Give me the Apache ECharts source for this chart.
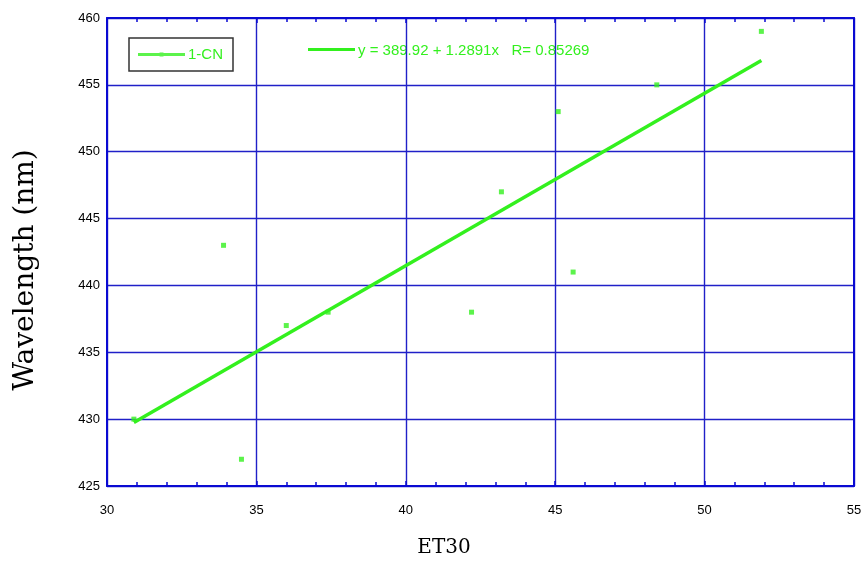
<!DOCTYPE html>
<html>
<head>
<meta charset="utf-8">
<script src="https://cdn.jsdelivr.net/npm/echarts@6/dist/echarts.min.js"></script>
<style>
  html, body { margin: 0; padding: 0; background: #ffffff; }
  #chart { width: 867px; height: 561px; }
</style>
</head>
<body>
<div id="chart"></div>
<script>
// Solvent polarity ET(30) vs. emission wavelength for 1-CN
const et30Values = [30.9, 33.9, 34.5, 36.0, 37.4, 42.2, 43.2, 45.1, 45.6, 48.4, 51.9];
const wavelengthValues = [430, 443, 427, 437, 438, 438, 447, 453, 441, 455, 459];

// Linear fit as reported: y = a + b x, R
const fitIntercept = 389.92;
const fitSlope = 1.2891;
const fitR = 0.85269;
const fitRange = [30.9, 51.9];

const xTicks = { min: 30, max: 55, step: 5 };
const yTicks = { min: 425, max: 460, step: 5 };

const GREEN = '#33f01e';
const FRAME = '#0a0ad2';
const GRID = '#2020c8';

const points = et30Values.map((x, i) => [x, wavelengthValues[i]]);
const fitLine = fitRange.map(x => [x, fitIntercept + fitSlope * x]);

const chart = echarts.init(document.getElementById('chart'), null, { renderer: 'canvas' });

const axisLabelFont = { color: '#000', fontFamily: 'Liberation Sans, Arial, sans-serif', fontSize: 13 };
const titleFont = '"DejaVu Serif", serif';

chart.setOption({
  animation: false,
  backgroundColor: '#ffffff',
  grid: { left: 107, right: 13, top: 18, bottom: 75, outerBoundsMode: 'none', containLabel: false },
  legend: {
    data: ['1-CN'],
    left: 129, top: 38,
    width: 104, height: 33,
    padding: [9, 10, 9, 9],
    borderColor: '#333333',
    borderWidth: 1.5,
    borderRadius: 0,
    itemWidth: 47, itemHeight: 8,
    itemGap: 0,
    icon: 'path://M0,2.5h48v3h-48z M22,2h4v4h-4z',
    textStyle: { color: GREEN, fontFamily: 'Liberation Sans, Arial, sans-serif', fontSize: 15, padding: [0, 0, 0, -2] }
  },
  xAxis: [
    {
      type: 'value', position: 'bottom',
      min: xTicks.min, max: xTicks.max, interval: xTicks.step,
      axisLine: { show: true, onZero: false, lineStyle: { color: FRAME, width: 2 } },
      axisTick: { show: true, inside: true, length: 5, lineStyle: { color: FRAME, width: 1.5 } },
      minorTick: { show: true, splitNumber: 5, length: 4, lineStyle: { color: FRAME, width: 1.5 } },
      axisLabel: Object.assign({ margin: 18 }, axisLabelFont),
      splitLine: { show: true, lineStyle: { color: GRID, width: 1.4 } }
    },
    {
      type: 'value', position: 'top',
      min: xTicks.min, max: xTicks.max, interval: xTicks.step,
      axisLine: { show: true, onZero: false, lineStyle: { color: FRAME, width: 2 } },
      axisTick: { show: true, inside: true, length: 5, lineStyle: { color: FRAME, width: 1.5 } },
      minorTick: { show: true, splitNumber: 5, length: 4, lineStyle: { color: FRAME, width: 1.5 } },
      axisLabel: { show: false },
      splitLine: { show: false }
    }
  ],
  yAxis: [
    {
      type: 'value', position: 'left',
      min: yTicks.min, max: yTicks.max, interval: yTicks.step,
      axisLine: { show: true, onZero: false, lineStyle: { color: FRAME, width: 2 } },
      axisTick: { show: false },
      axisLabel: Object.assign({ margin: 7 }, axisLabelFont),
      splitLine: { show: true, lineStyle: { color: GRID, width: 1.4 } }
    },
    {
      type: 'value', position: 'right',
      min: yTicks.min, max: yTicks.max, interval: yTicks.step,
      axisLine: { show: true, onZero: false, lineStyle: { color: FRAME, width: 2 } },
      axisTick: { show: false },
      axisLabel: { show: false },
      splitLine: { show: false }
    }
  ],
  graphic: [
    {
      type: 'group', left: 308, top: 43,
      children: [
        { type: 'rect', shape: { x: 0, y: 5, width: 47, height: 3 }, style: { fill: GREEN } },
        {
          type: 'text', x: 50, y: 0,
          style: {
            text: 'y = ' + fitIntercept.toFixed(2) + ' + ' + fitSlope.toFixed(4) + 'x   R= ' + fitR.toFixed(5),
            fill: GREEN, font: '15px "Liberation Sans", Arial, sans-serif'
          }
        }
      ]
    },
    {
      // x-axis title
      type: 'text', x: 444, y: 548,
      style: { text: 'ET30', fill: '#000', font: '20px ' + titleFont, align: 'center', verticalAlign: 'middle' }
    },
    {
      // y-axis title
      type: 'text', x: 26, y: 270, rotation: Math.PI / 2,
      style: { text: 'Wavelength (nm)', fill: '#000', font: '28px ' + titleFont, align: 'center', verticalAlign: 'middle' }
    }
  ],
  series: [
    {
      name: 'fit', type: 'line', data: fitLine,
      symbol: 'none', silent: true,
      lineStyle: { color: GREEN, width: 3.5 },
      z: 3
    },
    {
      name: '1-CN', type: 'scatter', data: points,
      symbol: 'rect', symbolSize: 5,
      itemStyle: { color: GREEN },
      z: 4
    }
  ]
});
</script>
</body>
</html>
